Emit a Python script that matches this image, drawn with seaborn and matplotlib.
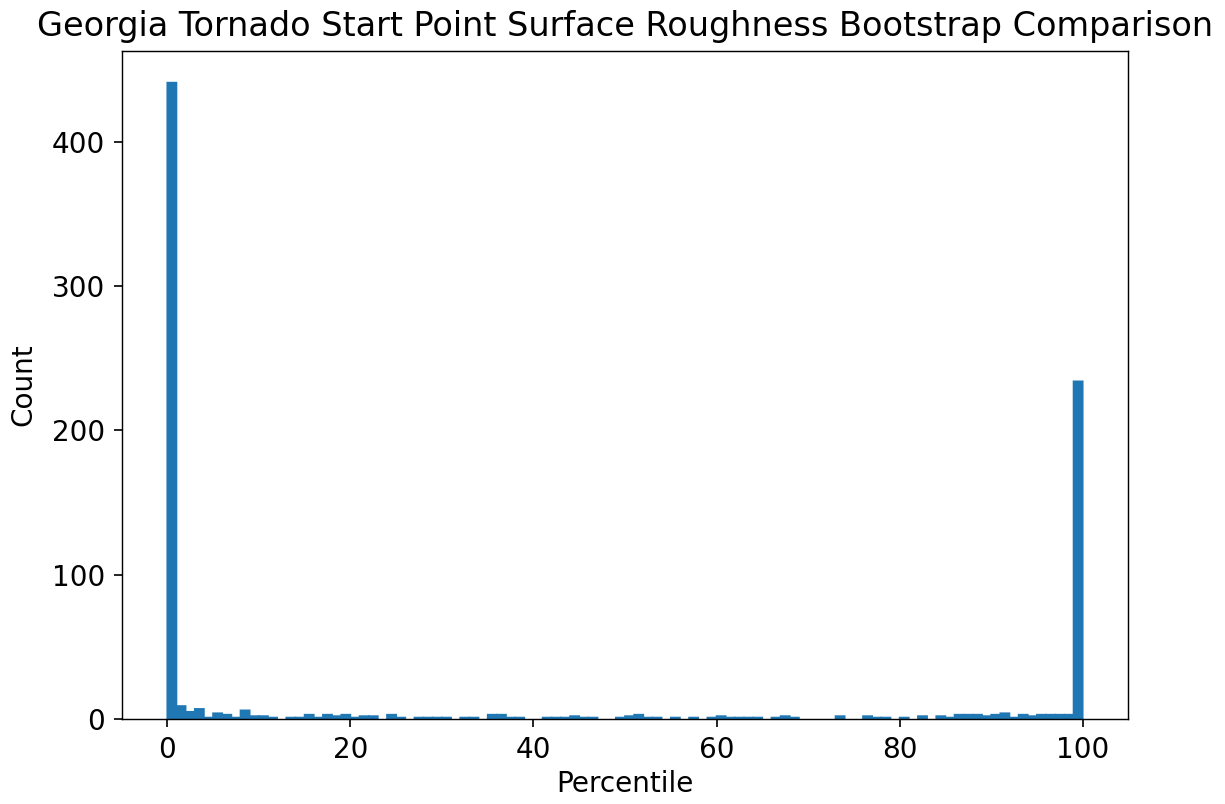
import matplotlib
matplotlib.use("Agg")
import matplotlib.pyplot as plt
import seaborn as sns
import numpy as np
import pandas as pd

# Histogram of bootstrap percentiles: 100 bins of width 1 over 0..100
bin_left = list(range(100))
counts = [
    441, 9, 5, 7, 1, 4, 3, 1, 6, 2,
    2, 1, 0, 1, 1, 3, 1, 3, 2, 3,
    1, 2, 2, 0, 3, 1, 0, 1, 1, 1,
    1, 0, 1, 1, 0, 3, 3, 1, 1, 0,
    0, 1, 1, 1, 2, 1, 1, 0, 0, 1,
    2, 3, 1, 1, 0, 1, 0, 1, 0, 1,
    2, 1, 1, 1, 1, 0, 1, 2, 1, 0,
    0, 0, 0, 2, 0, 0, 2, 1, 1, 0,
    1, 0, 2, 0, 2, 1, 3, 3, 3, 2,
    3, 4, 1, 3, 2, 3, 3, 3, 3, 234,
]

title = "Georgia Tornado Start Point Surface Roughness Bootstrap Comparison"
xlabel = "Percentile"
ylabel = "Count"

df = pd.DataFrame({"percentile": np.array(bin_left) + 0.5, "count": counts})

dpi = 172
fig = plt.figure(figsize=(1225 / dpi, 804 / dpi), dpi=dpi)
ax = fig.add_axes([0.0992, 0.1057, 0.9212 - 0.0992, 0.9368 - 0.1057])

sns.histplot(data=df, x="percentile", weights="count", bins=100, binrange=(0, 100),
             stat="count", color="#1f77b4", alpha=1, linewidth=0.7,
             edgecolor="#1f77b4", snap=False, ax=ax)

# empty bins should draw nothing (no edge stroke)
for p in ax.patches:
    if p.get_height() == 0:
        p.set_visible(False)

fs = 11.7
ax.set_title(title, fontsize=14, pad=6)
ax.set_xlabel(xlabel, fontsize=fs, labelpad=2.5)
ax.set_ylabel(ylabel, fontsize=fs, labelpad=6)
ax.set_xticks([0, 20, 40, 60, 80, 100])
ax.set_yticks([0, 100, 200, 300, 400])
ax.tick_params(labelsize=fs, width=0.7)
for sp in ax.spines.values():
    sp.set_linewidth(0.6)

fig.savefig("out.png", dpi=dpi)
